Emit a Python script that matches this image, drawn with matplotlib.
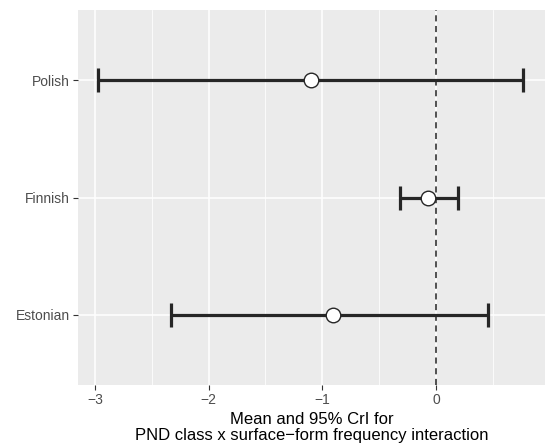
import matplotlib
matplotlib.use("Agg")
import matplotlib.pyplot as plt
from matplotlib.ticker import MultipleLocator

languages = ["Estonian", "Finnish", "Polish"]
means = [-0.91, -0.07, -1.10]
lower = [-2.33, -0.32, -2.97]
upper = [0.46, 0.19, 0.77]
xticks = [-3, -2, -1, 0]

plt.rcParams['font.family'] = ['Liberation Sans', 'DejaVu Sans']

fig = plt.figure(figsize=(5.46, 4.47), dpi=100)
W, H = 546, 447
ax = fig.add_axes([78 / W, (H - 385) / H, 467 / W, 375 / H])
ax.set_facecolor('#EBEBEB')
for s in ax.spines.values():
    s.set_visible(False)

ypos = list(range(1, len(languages) + 1))
ax.set_xlim(-3.15, 0.96)
ax.set_ylim(0.4, 3.6)

ax.xaxis.set_minor_locator(MultipleLocator(0.5))
ax.set_xticks(xticks)
ax.set_xticklabels([f"{t}".replace('-', '\u2212') for t in xticks])
ax.set_yticks(ypos)
ax.set_yticklabels(languages)
ax.grid(which='major', color='white', linewidth=1.1)
ax.grid(which='minor', axis='x', color='white', linewidth=0.55)
ax.set_axisbelow(True)
ax.tick_params(which='major', length=3.5, width=0.8, color='#333333', labelcolor='#4D4D4D', labelsize=10, pad=2.5)
ax.tick_params(which='minor', length=0)

ax.axvline(0, color='#222222', linestyle=(0, (4, 3)), linewidth=1.1, zorder=2)

ax.errorbar(means, ypos, xerr=[[m - l for m, l in zip(means, lower)], [u - m for m, u in zip(means, upper)]],
            fmt='none', ecolor='#262626', elinewidth=2.3, capsize=8.3, capthick=2.3, zorder=3)
ax.scatter(means, ypos, s=110, facecolor='white', edgecolor='#262626', linewidth=1.0, zorder=4)

ax.set_xlabel("Mean and 95% CrI for\nPND class x surface\u2212form frequency interaction",
              fontsize=12, color='black', labelpad=3, linespacing=1.1)

fig.savefig("out.png", dpi=100)
